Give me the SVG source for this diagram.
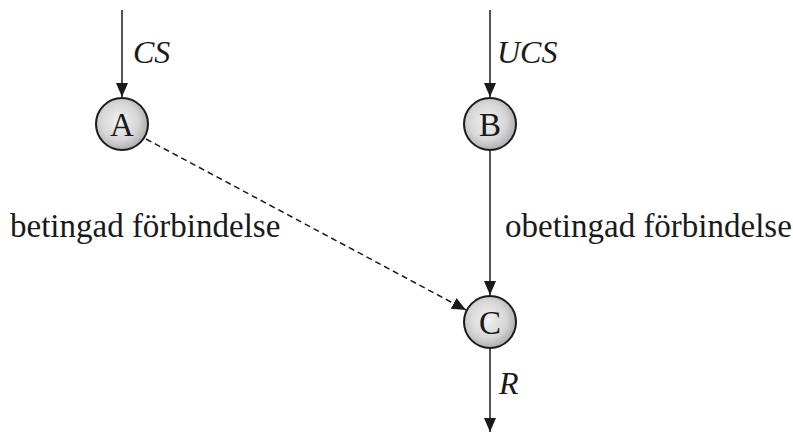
<svg xmlns="http://www.w3.org/2000/svg" width="793" height="433" viewBox="0 0 793 433">
<defs>
<radialGradient id="g" cx="0.45" cy="0.45" r="0.6">
<stop offset="0" stop-color="#f2f2f2"/>
<stop offset="0.6" stop-color="#d6d6d6"/>
<stop offset="1" stop-color="#a6a6a6"/>
</radialGradient>
<marker id="ah" markerWidth="14" markerHeight="12" refX="14" refY="6" orient="auto" markerUnits="userSpaceOnUse">
<path d="M0,0 L14,6 L0,12 Z" fill="#1a1a1a"/>
</marker>
</defs>
<style>
.n{fill:url(#g);stroke:#1a1a1a;stroke-width:2}
.l{font-family:"Liberation Serif","Times New Roman",serif;font-size:33px;fill:#1a1a1a;text-anchor:middle}
.i{font-family:"Liberation Serif","Times New Roman",serif;font-style:italic;font-size:32px;fill:#1a1a1a}
.t{font-family:"Liberation Serif","Times New Roman",serif;font-size:33px;fill:#1a1a1a}
.c{stroke:#1a1a1a;stroke-width:1.5;fill:none}
</style>
<rect width="793" height="433" fill="#fff"/>
<g id="connectors">
<line class="c" x1="122" y1="10" x2="122" y2="97" marker-end="url(#ah)"/>
<line class="c" x1="490" y1="10" x2="490" y2="97" marker-end="url(#ah)"/>
<line class="c" x1="490" y1="151" x2="490" y2="295" marker-end="url(#ah)"/>
<line class="c" x1="146" y1="139" x2="466" y2="310" stroke-dasharray="6,4" marker-end="url(#ah)"/>
<line class="c" x1="490" y1="349" x2="490" y2="432" marker-end="url(#ah)"/>
<text class="i" x="133" y="63">CS</text>
<text class="i" x="497" y="63">UCS</text>
<text class="i" x="499" y="394">R</text>
</g>
<g id="A"><circle class="n" cx="122" cy="124" r="26"/><text class="l" x="122" y="136">A</text></g>
<g id="B"><circle class="n" cx="490" cy="124" r="26"/><text class="l" x="490" y="136">B</text></g>
<g id="C"><circle class="n" cx="490" cy="322" r="26"/><text class="l" x="490" y="334">C</text></g>
<text class="t" x="10" y="237">betingad förbindelse</text>
<text class="t" x="505" y="237">obetingad förbindelse</text>
</svg>
